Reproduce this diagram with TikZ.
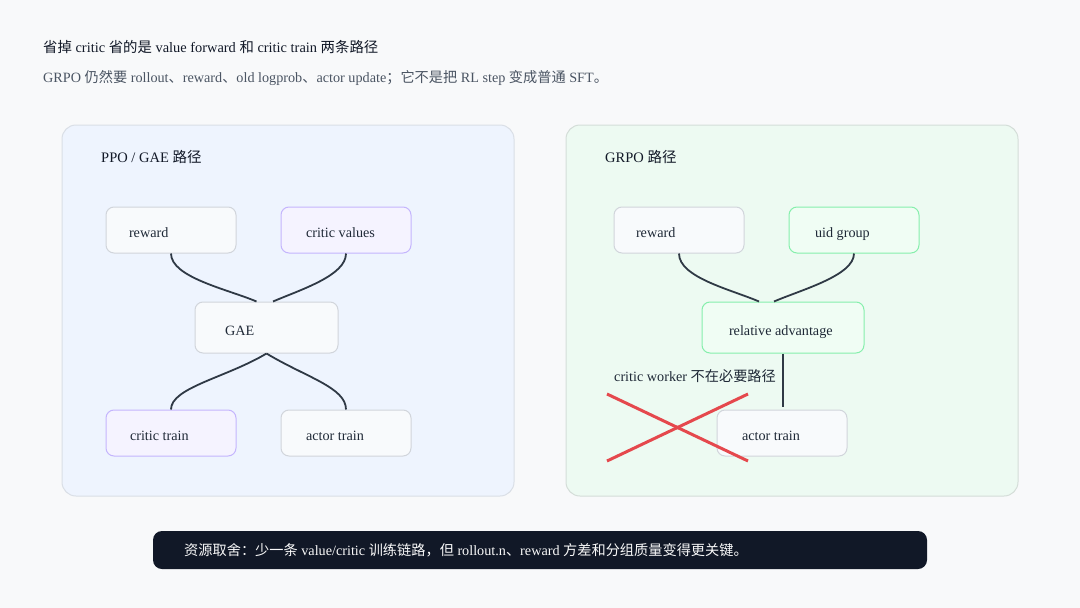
\documentclass[tikz,border=0pt]{standalone}
\usepackage{fontspec}
\setmainfont{Liberation Serif}
\newfontfamily\cjk{Noto Sans CJK SC}
\newcommand\zh[1]{{\cjk #1}}
\newcommand\lbox[2]{\makebox[#1][l]{#2}}
\usetikzlibrary{calc}
\definecolor{bgc}{HTML}{F8F9FA}
\definecolor{lpanel}{HTML}{EEF4FE}
\definecolor{lpanelb}{HTML}{DADFE6}
\definecolor{rpanel}{HTML}{EDFAF2}
\definecolor{rpanelb}{HTML}{D4DDD8}
\definecolor{nfill}{HTML}{F8FAFC}
\definecolor{nbord}{HTML}{D1D5DB}
\definecolor{pfill}{HTML}{F5F3FF}
\definecolor{pbord}{HTML}{C4B5FD}
\definecolor{gfill}{HTML}{F0FDF4}
\definecolor{gbord}{HTML}{86EFAC}
\definecolor{linec}{HTML}{2F3945}
\definecolor{redx}{HTML}{E5484D}
\definecolor{barc}{HTML}{111827}
\definecolor{titlec}{HTML}{111827}
\definecolor{subc}{HTML}{4B5563}
\definecolor{nodetext}{HTML}{1F2937}
\tikzset{
  panel/.style={draw, line width=1pt, rounded corners=14pt},
  nbox/.style={draw=nbord, fill=nfill, line width=1pt, rounded corners=8pt,
    minimum height=46pt, inner ysep=0pt, text=nodetext,
    text height=15pt, text depth=0pt,
    font=\fontsize{14.2}{16}\selectfont},
  plainbox/.style={nbox},
  purplebox/.style={nbox, draw=pbord, fill=pfill},
  greenbox/.style={nbox, draw=gbord, fill=gfill},
  conn/.style={draw=linec, line width=1.8pt},
  xline/.style={draw=redx, line width=3pt},
  txt/.style={anchor=west, inner sep=0pt, font=\fontsize{14.2}{16}\selectfont},
}
\begin{document}
\begin{tikzpicture}[x=1pt,y=-1pt]
\path[fill=bgc] (0,0) rectangle (1080,608);
\useasboundingbox (0,0) rectangle (1080,608);

% header
\node[txt, text=titlec, font=\fontsize{14.4}{16}\selectfont] (title) at (43,47)
  {\zh{省掉} critic \zh{省的是} value forward \zh{和} critic train \zh{两条路径}};
\node[txt, text=subc] (sub) at (43,78)
  {GRPO \zh{仍然要} rollout\zh{、}reward\zh{、}old logprob\zh{、}actor update\zh{；它不是把} RL step \zh{变成普通} SFT\zh{。}};

% panels
\path[panel, draw=lpanelb, fill=lpanel] (62,125) rectangle (514,496);
\path[panel, draw=rpanelb, fill=rpanel] (566,125) rectangle (1018,496);

\node[txt, text=titlec, font=\fontsize{14.5}{16}\selectfont] (ltitle) at (101,157) {PPO / GAE \zh{路径}};
\node[txt, text=titlec, font=\fontsize{14.5}{16}\selectfont] (rtitle) at (605,157) {GRPO \zh{路径}};

% left nodes
\node[plainbox, inner xsep=23pt] (lrew) at (171,230) {\lbox{84pt}{reward}};
\node[purplebox, inner xsep=25pt] (cval) at (346,230) {\lbox{80pt}{critic values}};
\node[plainbox, inner xsep=30pt, minimum height=51pt] (gae) at (266.5,327.5) {\lbox{83pt}{GAE}};
\node[purplebox, inner xsep=24pt] (ctrain) at (171,433) {\lbox{82pt}{critic train}};
\node[plainbox, inner xsep=25pt] (latrain) at (346,433) {\lbox{80pt}{actor train}};

% left connectors
\draw[conn] (lrew.south) .. controls +(0,24) and +(-28,-12) .. ($(gae.north)+(-10,0)$);
\draw[conn] (cval.south) .. controls +(0,22) and +(28,-12) .. ($(gae.north)+(6.5,0)$);
\draw[conn] (gae.south) .. controls +(-40,24) and +(0,-22) .. (ctrain.north);
\draw[conn] (gae.south) .. controls +(40,24) and +(0,-22) .. (latrain.north);

% right nodes
\node[plainbox, inner xsep=22pt] (rrew) at (679,230) {\lbox{86pt}{reward}};
\node[greenbox, inner xsep=26pt] (uid) at (854,230) {\lbox{78pt}{uid group}};
\node[greenbox, inner xsep=27pt, minimum height=51pt] (radv) at (783,327.5) {\lbox{108pt}{relative advantage}};
\node[plainbox, inner xsep=25pt] (ratrain) at (782,433) {\lbox{80pt}{actor train}};

% right connectors
\draw[conn] (rrew.south) .. controls +(0,24) and +(-28,-12) .. ($(radv.north)+(-24,0)$);
\draw[conn] (uid.south) .. controls +(0,22) and +(28,-12) .. ($(radv.north)+(-9,0)$);
\draw[conn] (radv.south) -- ($(ratrain.north)+(1,-3)$);

\node[txt, text=nodetext] (cw) at (614,376) {critic worker \zh{不在必要路径}};

% red cross
\coordinate (xa) at (607,394);
\coordinate (xb) at (748,461);
\coordinate (xc) at (607,461);
\coordinate (xd) at (748,394);
\draw[xline] (xa) -- (xb);
\draw[xline] (xc) -- (xd);

% bottom bar
\path[fill=barc, rounded corners=9pt] (153,531) rectangle (927,569);
\node[txt, text=white!95!gray] (bar) at (184,550)
  {\zh{资源取舍：少一条} value/critic \zh{训练链路，但} rollout.n\zh{、}reward \zh{方差和分组质量变得更关键。}};
\end{tikzpicture}
\end{document}
